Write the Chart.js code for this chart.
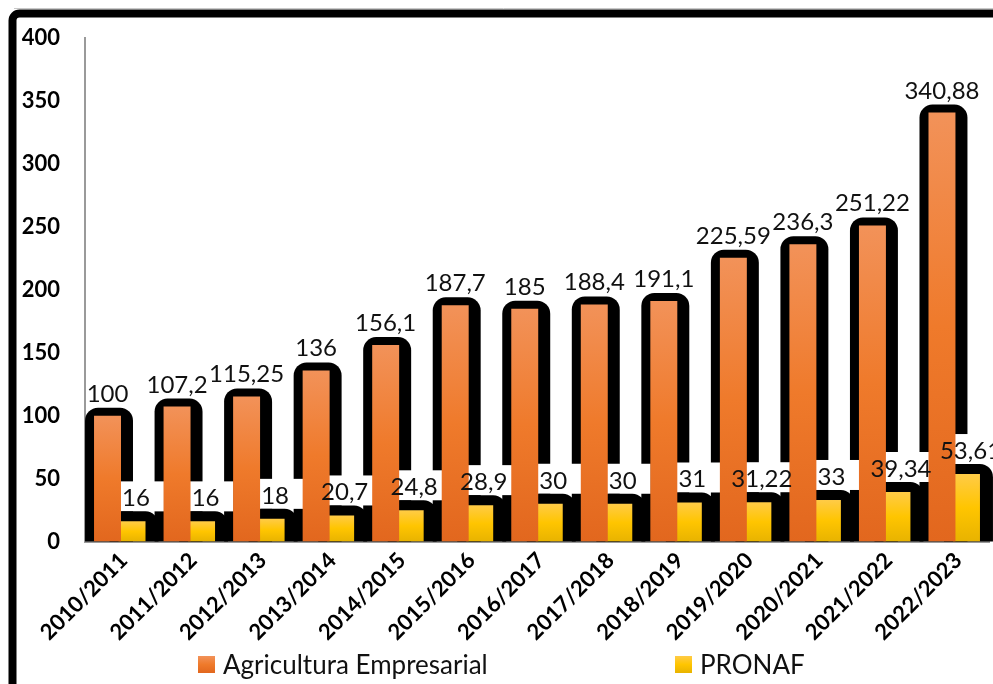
<!DOCTYPE html>
<html>
<head>
<meta charset="utf-8">
<script src="https://cdn.jsdelivr.net/npm/chart.js@4.4.1/dist/chart.umd.min.js"></script>
<style>
  html, body { margin: 0; padding: 0; background: #fff; overflow: hidden; }
  #wrap { width: 993px; height: 684px; position: relative; }
</style>
</head>
<body>
<div id="wrap"><canvas id="c" width="993" height="684"></canvas></div>
<script>
// Safras (crop years) on the category axis
const safras = ['2010/2011', '2011/2012', '2012/2013', '2013/2014', '2014/2015', '2015/2016',
                '2016/2017', '2017/2018', '2018/2019', '2019/2020', '2020/2021', '2021/2022', '2022/2023'];
// Plano Safra credit, R$ bilhões
const agriculturaEmpresarial = [100, 107.2, 115.25, 136, 156.1, 187.7, 185, 188.4, 191.1, 225.59, 236.3, 251.22, 340.88];
const pronaf = [16, 16, 18, 20.7, 24.8, 28.9, 30, 30, 31, 31.22, 33, 39.34, 53.61];
const yTicks = [0, 50, 100, 150, 200, 250, 300, 350, 400];
const seriesNames = ['Agricultura Empresarial', 'PRONAF'];

const orangeStops = ['#F29259', '#EF7A2B', '#E2671E'];
const yellowStops = ['#FFCB47', '#FFC500', '#E8B300'];

const fmt = v => String(v).replace('.', ',');

function barGradient(stops) {
  return (c) => {
    const chart = c.chart;
    if (!chart.chartArea || c.type !== 'data') return stops[1];
    const ys = chart.scales.y;
    const top = ys.getPixelForValue(c.raw), base = ys.getPixelForValue(0);
    if (!isFinite(top) || base - top < 1) return stops[1];
    const g = chart.ctx.createLinearGradient(0, top, 0, base);
    g.addColorStop(0, stops[0]);
    g.addColorStop(0.5, stops[1]);
    g.addColorStop(1, stops[2]);
    return g;
  };
}

// Black rounded backdrop behind each bar
function backdrop(ctx, bar, padL, padR, padT) {
  const p = bar.getProps(['x', 'y', 'base', 'width'], true);
  const l = p.x - p.width / 2 - padL, r = p.x + p.width / 2 + padR;
  const t = p.y - padT, b = p.base;
  const rad = Math.min(13, (r - l) / 2, b - t);
  ctx.beginPath();
  ctx.moveTo(l, b);
  ctx.lineTo(l, t + rad);
  ctx.arcTo(l, t, l + rad, t, rad);
  ctx.lineTo(r - rad, t);
  ctx.arcTo(r, t, r, t + rad, rad);
  ctx.lineTo(r, b);
  ctx.closePath();
  ctx.fill();
}

const labelFont = '24px Lato';

const decor = {
  id: 'decor',
  beforeDraw(chart) {
    const ctx = chart.ctx;
    ctx.save();
    ctx.fillStyle = '#fff';
    ctx.fillRect(0, 0, chart.width, chart.height);
    ctx.strokeStyle = '#c8c8c8';
    ctx.lineWidth = 1;
    ctx.beginPath(); ctx.moveTo(14, 8.5); ctx.lineTo(chart.width, 8.5); ctx.stroke();
    // outer frame
    ctx.strokeStyle = '#000';
    ctx.lineWidth = 8;
    ctx.beginPath();
    ctx.moveTo(chart.width + 20, 13.5);
    ctx.lineTo(20, 13.5);
    ctx.arcTo(12.5, 13.5, 12.5, 21, 7);
    ctx.lineTo(12.5, chart.height + 20);
    ctx.stroke();
    ctx.restore();
  },
  beforeDatasetsDraw(chart) {
    const ctx = chart.ctx;
    const mOr = chart.getDatasetMeta(0), mYe = chart.getDatasetMeta(1);
    ctx.save();
    ctx.fillStyle = '#000';
    mOr.data.forEach(bar => backdrop(ctx, bar, 9, 12, 8));
    // white boxes behind the PRONAF value labels
    ctx.font = labelFont;
    mYe.data.forEach((bar, i) => {
      const txt = fmt(pronaf[i]);
      const w = ctx.measureText(txt).width;
      const cx = bar.x + 4;
      ctx.fillStyle = '#fff';
      ctx.fillRect(cx - w / 2 - 2, bar.y - 40, w + 16, 30);
    });
    ctx.fillStyle = '#000';
    mYe.data.forEach(bar => backdrop(ctx, bar, 9, 13, 10));
    ctx.restore();
  },
  afterDatasetsDraw(chart) {
    const ctx = chart.ctx;
    const mOr = chart.getDatasetMeta(0), mYe = chart.getDatasetMeta(1);
    ctx.save();
    ctx.font = labelFont;
    ctx.fillStyle = '#111';
    ctx.textAlign = 'center';
    ctx.textBaseline = 'alphabetic';
    mOr.data.forEach((bar, i) => ctx.fillText(fmt(agriculturaEmpresarial[i]), bar.x, bar.y - 14));
    mYe.data.forEach((bar, i) => ctx.fillText(fmt(pronaf[i]), bar.x + 4, bar.y - 15));
    ctx.restore();
  },
  afterDraw(chart) {
    // legend
    const ctx = chart.ctx;
    const items = [
      { x: 198, stops: orangeStops, label: chart.data.datasets[0].label },
      { x: 675, stops: yellowStops, label: chart.data.datasets[1].label }
    ];
    ctx.save();
    items.forEach(it => {
      const g = ctx.createLinearGradient(0, 656, 0, 673);
      g.addColorStop(0, it.stops[0]); g.addColorStop(0.5, it.stops[1]); g.addColorStop(1, it.stops[2]);
      ctx.fillStyle = g;
      ctx.fillRect(it.x, 656, 17, 17);
      ctx.fillStyle = '#111';
      ctx.font = '26px Lato';
      ctx.textBaseline = 'middle';
      ctx.textAlign = 'left';
      ctx.fillText(it.label, it.x + 25, 666);
    });
    ctx.restore();
  }
};

new Chart(document.getElementById('c'), {
  type: 'bar',
  data: {
    labels: safras,
    datasets: [
      { label: seriesNames[0], data: agriculturaEmpresarial, backgroundColor: barGradient(orangeStops), borderWidth: 0 },
      { label: seriesNames[1], data: pronaf, backgroundColor: barGradient(yellowStops), borderWidth: 0 }
    ]
  },
  options: {
    responsive: false,
    animation: false,
    devicePixelRatio: 1,
    layout: { padding: { top: 25, right: 4, left: 0, bottom: 0 } },
    datasets: { bar: { categoryPercentage: 0.705, barPercentage: 1.1 } },
    plugins: { legend: { display: false }, tooltip: { enabled: false } },
    scales: {
      x: {
        z: 1,
        grid: { display: false, drawTicks: false },
        border: { display: true, color: '#9a9a9a', width: 2 },
        ticks: {
          autoSkip: false, maxRotation: 45, minRotation: 45, padding: 6, labelOffset: 4,
          color: '#000', font: { family: 'Lato', size: 22, weight: 'bold' }
        },
        afterFit: s => { s.height = 142.5; }
      },
      y: {
        min: 0, max: 400,
        grid: { display: false, drawTicks: false },
        border: { display: true, color: '#9a9a9a', width: 2 },
        afterBuildTicks: s => { s.ticks = yTicks.map(v => ({ value: v })); },
        ticks: {
          padding: 25, color: '#000',
          font: { family: 'Lato', size: 22, weight: 'bold' }
        },
        afterFit: s => { s.width = 85; }
      }
    }
  },
  plugins: [decor]
});
</script>
</body>
</html>
